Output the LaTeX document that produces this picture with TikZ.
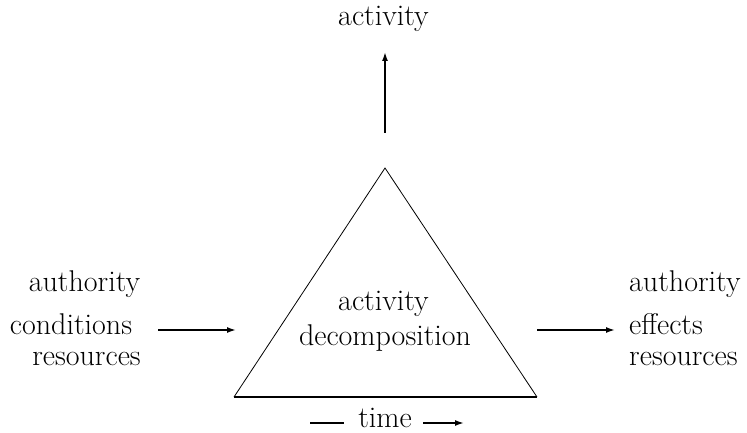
\documentclass[tikz,border=0pt]{standalone}
\usetikzlibrary{arrows.meta}
\begin{document}
\begin{tikzpicture}[x=1pt,y=-1pt,
  lbl/.style={inner sep=0pt,anchor=base,font=\fontsize{30}{35}\selectfont},
  arr/.style={line width=1.6pt,-{Latex[length=9pt,width=6pt]}},
  side/.style={line width=0.8pt}]
\useasboundingbox (0,0) rectangle (747,433);
\coordinate (apex) at (385,168);
\coordinate (bl) at (234,397);
\coordinate (br) at (537,397);
\draw[side] (bl) -- (apex) -- (br);
\draw[line width=2pt] (bl) -- (br);
\node[lbl] (act) at (383.5,26) {activity};
\coordinate (upS) at (385,133);
\coordinate (upE) at (385,52);
\draw[arr] (upS) -- (upE);
\node[lbl] (c1) at (383.5,310) {activity};
\node[lbl] (c2) at (385,345) {decomposition};
\node[lbl] (la) at (84.5,291) {authority};
\node[lbl] (lc) at (71,334) {conditions};
\node[lbl] (lr) at (86.5,365) {resources};
\node[lbl,anchor=base west] (ra) at (629,291) {authority};
\node[lbl,anchor=base west] (re) at (629,334) {effects};
\node[lbl,anchor=base west] (rr) at (629,365) {resources};
\coordinate (l1) at (158,330);
\coordinate (l2) at (236,330);
\coordinate (r1) at (537,330);
\coordinate (r2) at (615,330);
\draw[arr] (l1) -- (l2);
\draw[arr] (r1) -- (r2);
\node[lbl] (time) at (385,427) {time};
\coordinate (t1) at (310,423);
\coordinate (t2) at (344,423);
\coordinate (t3) at (423,423);
\coordinate (t4) at (464,423);
\draw[line width=1.6pt] (t1) -- (t2);
\draw[arr] (t3) -- (t4);
\end{tikzpicture}
\end{document}
